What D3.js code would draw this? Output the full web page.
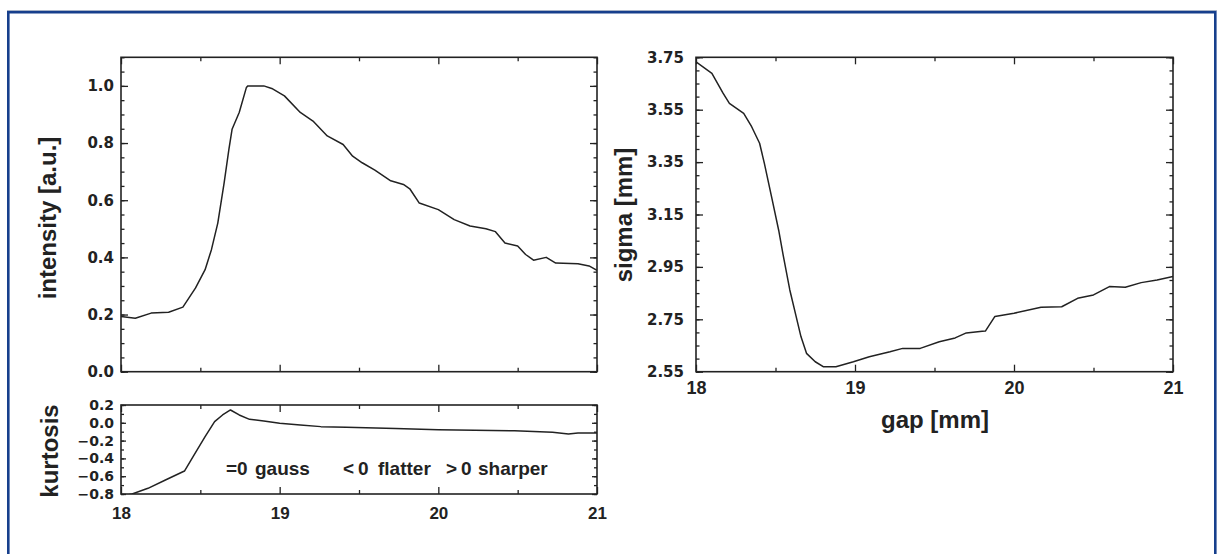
<!DOCTYPE html>
<html><head><meta charset="utf-8">
<script src="https://cdn.jsdelivr.net/npm/d3@7/dist/d3.min.js"></script>
<style>html,body{margin:0;padding:0;background:#fff;overflow:hidden}</style>
</head><body><svg id="c" width="1218" height="554"></svg>
<script>
// ---- data ----
const gapIntensity = [18.0,18.09,18.19,18.30,18.39,18.47,18.53,18.57,18.61,18.65,18.68,18.70,18.745,18.79,18.80,18.90,18.95,19.03,19.13,19.21,19.30,19.40,19.46,19.52,19.60,19.70,19.78,19.82,19.88,20.0,20.10,20.20,20.30,20.36,20.42,20.50,20.55,20.60,20.68,20.74,20.88,20.95,21.0];
const intensity    = [0.193,0.187,0.205,0.208,0.226,0.293,0.357,0.427,0.52,0.661,0.778,0.848,0.907,0.994,1.0,1.0,0.991,0.965,0.907,0.877,0.825,0.795,0.754,0.731,0.705,0.668,0.655,0.64,0.59,0.567,0.532,0.51,0.50,0.49,0.45,0.44,0.41,0.39,0.40,0.38,0.378,0.37,0.355];

const gapKurtosis = [18.0,18.07,18.17,18.28,18.40,18.46,18.53,18.59,18.64,18.69,18.745,18.81,18.90,19.0,19.13,19.26,19.42,19.73,20.0,20.23,20.48,20.72,20.82,20.88,21.0];
const kurtosis    = [-0.83,-0.80,-0.736,-0.643,-0.542,-0.362,-0.156,0.013,0.088,0.144,0.088,0.039,0.02,-0.006,-0.025,-0.043,-0.051,-0.063,-0.078,-0.085,-0.089,-0.107,-0.126,-0.115,-0.115];

const gapSigma = [18.0,18.10,18.17,18.21,18.30,18.35,18.40,18.43,18.475,18.52,18.55,18.59,18.63,18.66,18.695,18.75,18.80,18.88,18.99,19.09,19.22,19.30,19.41,19.53,19.63,19.70,19.80,19.82,19.88,20.0,20.17,20.30,20.40,20.50,20.60,20.70,20.80,20.90,21.0];
const sigma    = [3.733,3.689,3.613,3.574,3.536,3.485,3.422,3.345,3.218,3.09,2.989,2.862,2.76,2.684,2.62,2.588,2.569,2.569,2.588,2.607,2.626,2.639,2.639,2.664,2.679,2.698,2.704,2.705,2.761,2.773,2.796,2.798,2.83,2.843,2.875,2.872,2.89,2.90,2.913];

const gapTicks = [18,19,20,21];
const gapMinorTicks = [18.5,19.5,20.5];
const intensityTicks = [0.0,0.2,0.4,0.6,0.8,1.0];
const kurtosisTicks = [-0.8,-0.6,-0.4,-0.2,0.0,0.2];
const sigmaTicks = [2.55,2.75,2.95,3.15,3.35,3.55,3.75];

const svg = d3.select("#c");
const INK = "#222";

// blue frame
svg.append("line").attr("x1",7).attr("x2",1217).attr("y1",10.5).attr("y2",10.5).attr("stroke","#b8c0cc").attr("stroke-width",1);
svg.append("rect").attr("x",8.3).attr("y",12.2).attr("width",1207).attr("height",600)
  .attr("fill","none").attr("stroke","#163f8c").attr("stroke-width",2.6);

let clipId = 0;
function panel(o){
  const g = svg.append("g");
  const x = d3.scaleLinear().domain([18,21]).range([o.x0,o.x1]);
  const y = d3.scaleLinear().domain(o.yDomain).range([o.y1,o.y0]);
  const id = "clip"+(clipId++);
  svg.append("clipPath").attr("id",id).append("rect")
    .attr("x",o.x0).attr("y",o.y0).attr("width",o.x1-o.x0).attr("height",o.y1-o.y0);

  function ax(axisFn, scale, vals, size, tr, labels){
    const a = axisFn(scale).tickValues(vals).tickSizeInner(-size).tickSizeOuter(0);
    if(!labels) a.tickFormat("");
    const s = g.append("g").attr("transform",tr).call(a);
    s.select(".domain").remove();
    s.selectAll(".tick line").attr("stroke",INK).attr("stroke-width",1.3);
    return s;
  }
  // x axes
  const bx = ax(d3.axisBottom, x, gapTicks, o.xMajor, `translate(0,${o.y1})`, !!o.xFmt);
  if(o.xFmt){
    bx.call(a=>a.selectAll("text").text(d=>o.xFmt(d)).attr("fill",INK)
      .attr("font-family","Liberation Sans, Arial, sans-serif").attr("font-weight","bold")
      .attr("font-size",o.xFont).attr("y",o.xPad));
  }
  bx.selectAll("text").attr("font-size",o.xFont);
  ax(d3.axisBottom, x, gapMinorTicks, o.xMinor, `translate(0,${o.y1})`, false);
  ax(d3.axisTop, x, gapTicks, o.xMajor, `translate(0,${o.y0})`, false);
  ax(d3.axisTop, x, gapMinorTicks, o.xMinor, `translate(0,${o.y0})`, false);
  // y axes
  const ly = ax(d3.axisLeft, y, o.yTicks, o.yMajor, `translate(${o.x0},0)`, true);
  ly.selectAll("text").text(d=>o.yFmt(d)).attr("fill",INK)
    .attr("font-family","DejaVu Sans, sans-serif").attr("font-weight","bold")
    .attr("font-size",o.yFont).attr("x",-o.yPad);
  ax(d3.axisLeft, y, o.yMinorTicks, o.yMinor, `translate(${o.x0},0)`, false);
  ax(d3.axisRight, y, o.yTicks, o.yMajor, `translate(${o.x1},0)`, false);
  ax(d3.axisRight, y, o.yMinorTicks, o.yMinor, `translate(${o.x1},0)`, false);

  // frame
  g.append("rect").attr("x",o.x0).attr("y",o.y0).attr("width",o.x1-o.x0).attr("height",o.y1-o.y0)
    .attr("fill","none").attr("stroke",INK).attr("stroke-width",1.6);

  // curve
  const line = d3.line().x((d,i)=>x(o.xs[i])).y(d=>y(d));
  g.append("path").datum(o.ys).attr("clip-path",`url(#${id})`)
    .attr("d",line).attr("fill","none").attr("stroke",INK).attr("stroke-width",1.5)
    .attr("stroke-linejoin","round");
  return g;
}

const minor = (a,b,s)=>d3.range(Math.round((b-a)/s)+1).map(i=>+(a+i*s).toFixed(3));

panel({x0:121,x1:597,y0:57.3,y1:371.7,yDomain:[0,1.1],
  xs:gapIntensity, ys:intensity,
  yTicks:intensityTicks, yMinorTicks:minor(0,1.1,0.05),
  yFmt:d3.format(".1f"), yFont:15, yPad:7, yMajor:7, yMinor:3.5,
  xMajor:7, xMinor:4, xFmt:null, xFont:16, xPad:10});

panel({x0:121,x1:597,y0:405,y1:494,yDomain:[-0.8,0.2],
  xs:gapKurtosis, ys:kurtosis,
  yTicks:kurtosisTicks, yMinorTicks:minor(-0.8,0.2,0.1),
  yFmt:d3.format(".1f"), yFont:14, yPad:7, yMajor:5, yMinor:3,
  xMajor:7, xMinor:4, xFmt:d3.format("d"), xFont:17, xPad:13});

panel({x0:696,x1:1173,y0:57.3,y1:371.7,yDomain:[2.55,3.75],
  xs:gapSigma, ys:sigma,
  yTicks:sigmaTicks, yMinorTicks:minor(2.55,3.75,0.05),
  yFmt:d3.format(".2f"), yFont:15, yPad:12, yMajor:7, yMinor:3.5,
  xMajor:7, xMinor:4, xFmt:d3.format("d"), xFont:18, xPad:10});

// axis titles
function title(txt, x, y, rot){
  svg.append("text").attr("transform",`translate(${x},${y})`+(rot?" rotate(-90)":""))
    .attr("text-anchor","middle").attr("fill",INK)
    .attr("font-family","Liberation Sans, Arial, sans-serif").attr("font-weight","bold")
    .attr("font-size",24).text(txt);
}
title("intensity [a.u.]", 56, 218, true);
title("kurtosis", 58, 451, true);
title("sigma [mm]", 632, 215, true);
title("gap [mm]", 935, 428, false);

// annotation
const ann = svg.append("text").attr("y",475).attr("fill",INK)
  .attr("font-family","Liberation Sans, Arial, sans-serif").attr("font-weight","bold").attr("font-size",19);
[["=",226],["0",237],["gauss",255],["<",343],["0",358],["flatter",378],[">",446],["0",461],["sharper",478]].forEach(([t,x])=>{
  ann.append("tspan").attr("x",x).text(t);
});
</script></body></html>
